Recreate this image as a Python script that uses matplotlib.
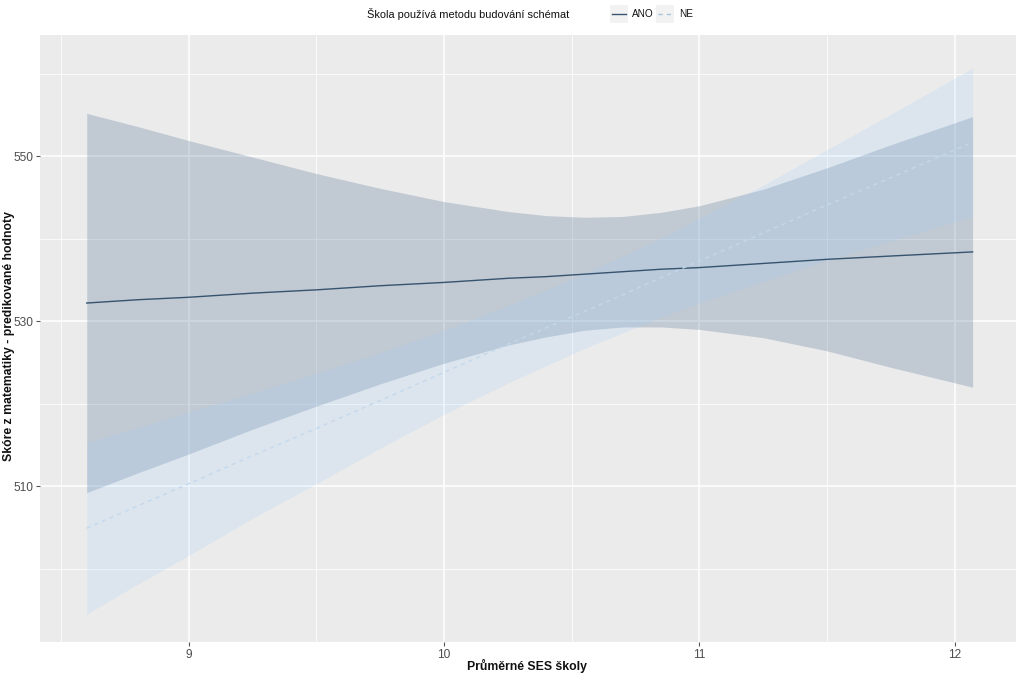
import matplotlib
matplotlib.use("Agg")
import matplotlib.pyplot as plt
from matplotlib.lines import Line2D
from matplotlib.patches import Rectangle
import numpy as np

plt.rcParams['font.family'] = ['Liberation Sans', 'DejaVu Sans']

# ---- data ----
ses = [8.6, 8.8, 9.0, 9.25, 9.5, 9.75, 10.0, 10.25, 10.4, 10.55, 10.7, 10.85, 11.0, 11.25, 11.5, 11.75, 12.07]

ano_fit = [532.2, 532.6, 532.9, 533.4, 533.8, 534.3, 534.7, 535.2, 535.4, 535.7, 536.0, 536.3, 536.5, 537.0, 537.5, 537.9, 538.4]
ano_hi = [555.2, 553.6, 551.9, 549.9, 547.9, 546.1, 544.5, 543.3, 542.8, 542.6, 542.7, 543.2, 544.0, 546.0, 548.6, 551.4, 554.8]
ano_lo = [509.2, 511.6, 513.9, 516.9, 519.7, 522.4, 524.9, 527.1, 528.1, 528.9, 529.3, 529.3, 529.0, 528.0, 526.4, 524.4, 522.0]

ne_fit = [504.9, 507.6, 510.3, 513.7, 517.0, 520.4, 523.8, 527.2, 529.2, 531.2, 533.2, 535.3, 537.3, 540.7, 544.1, 547.4, 551.7]
ne_hi = [515.3, 517.1, 519.0, 521.3, 523.7, 526.2, 528.9, 531.9, 533.8, 535.8, 537.9, 540.1, 542.5, 546.5, 550.8, 555.1, 560.7]
ne_lo = [494.5, 498.1, 501.6, 506.1, 510.3, 514.6, 518.7, 522.5, 524.6, 526.7, 528.6, 530.5, 532.2, 534.8, 537.4, 539.7, 542.7]

group_labels = ["ANO", "NE"]
legend_title = "Škola používá metodu budování schémat"
x_label = "Průměrné SES školy"
y_label = "Skóre z matematiky - predikované hodnoty"
x_ticks = [9, 10, 11, 12]
y_ticks = [510, 530, 550]

W, H = 1023, 675
fig = plt.figure(figsize=(W / 100, H / 100), dpi=100)
fig.patch.set_facecolor("white")
ax = fig.add_axes([40 / W, (H - 642) / H, 976 / W, 607 / H])
ax.set_facecolor("#EBEBEB")

ano_line_c = "#36546F"
ano_fill_c = "#4F6F8F"
ne_line_c = "#C4D8EC"
ne_fill_c = "#9CD0FF"

ax.fill_between(ses, ano_lo, ano_hi, color=ano_fill_c, alpha=0.265, lw=0, zorder=2)
ax.fill_between(ses, ne_lo, ne_hi, color=ne_fill_c, alpha=0.19, lw=0, zorder=3)
ax.plot(ses, ano_fit, color=ano_line_c, lw=1.0, zorder=4)
ax.plot(ses, ne_fit, color=ne_line_c, lw=1.0, ls=(0, (3, 3)), zorder=4)

ax.set_xlim(8.417, 12.24)
ax.set_ylim(491.1, 564.7)
ax.set_xticks(x_ticks)
ax.set_yticks(y_ticks)
ax.set_xticks([8.5, 9.5, 10.5, 11.5], minor=True)
ax.set_yticks([500, 520, 540, 560], minor=True)
ax.grid(which="major", color="white", lw=1.1, zorder=1)
ax.grid(which="minor", color="white", lw=0.55, zorder=1)
ax.set_axisbelow(True)
for s in ax.spines.values():
    s.set_visible(False)
ax.tick_params(which="major", length=3, width=0.8, color="#555555", labelcolor="#4D4D4D",
               labelsize=8.6, pad=2)
ax.tick_params(which="minor", length=0)

fig.text(527 / W, 1 - 666 / H, x_label, fontsize=8.8, fontweight="bold",
         ha="center", va="center", color="#111111")
fig.text(9 / W, 1 - 336 / H, y_label, fontsize=8.8, fontweight="bold", rotation=90,
         ha="center", va="center", color="#111111")

# legend (top)
ty = 1 - 14 / H
fig.text(367 / W, ty, legend_title, fontsize=7.9, va="center", ha="left", color="#111111")
key_w, key_h = 18, 18
for kx, tx, lab, col, ls in [(610, 632, group_labels[0], ano_line_c, "-"),
                             (656, 679, group_labels[1], "#A8C2DA", (0, (3, 3)))]:
    fig.add_artist(Rectangle((kx / W, (H - 23) / H), key_w / W, key_h / H,
                             transform=fig.transFigure, facecolor="#F2F2F2", edgecolor="none"))
    fig.add_artist(Line2D([(kx + 2) / W, (kx + key_w - 2) / W], [ty, ty],
                          transform=fig.transFigure, color=col, lw=1.0, linestyle=ls))
    fig.text(tx / W, ty, lab, fontsize=7.2, va="center", ha="left", color="#111111")

fig.savefig("out.png", dpi=100)
